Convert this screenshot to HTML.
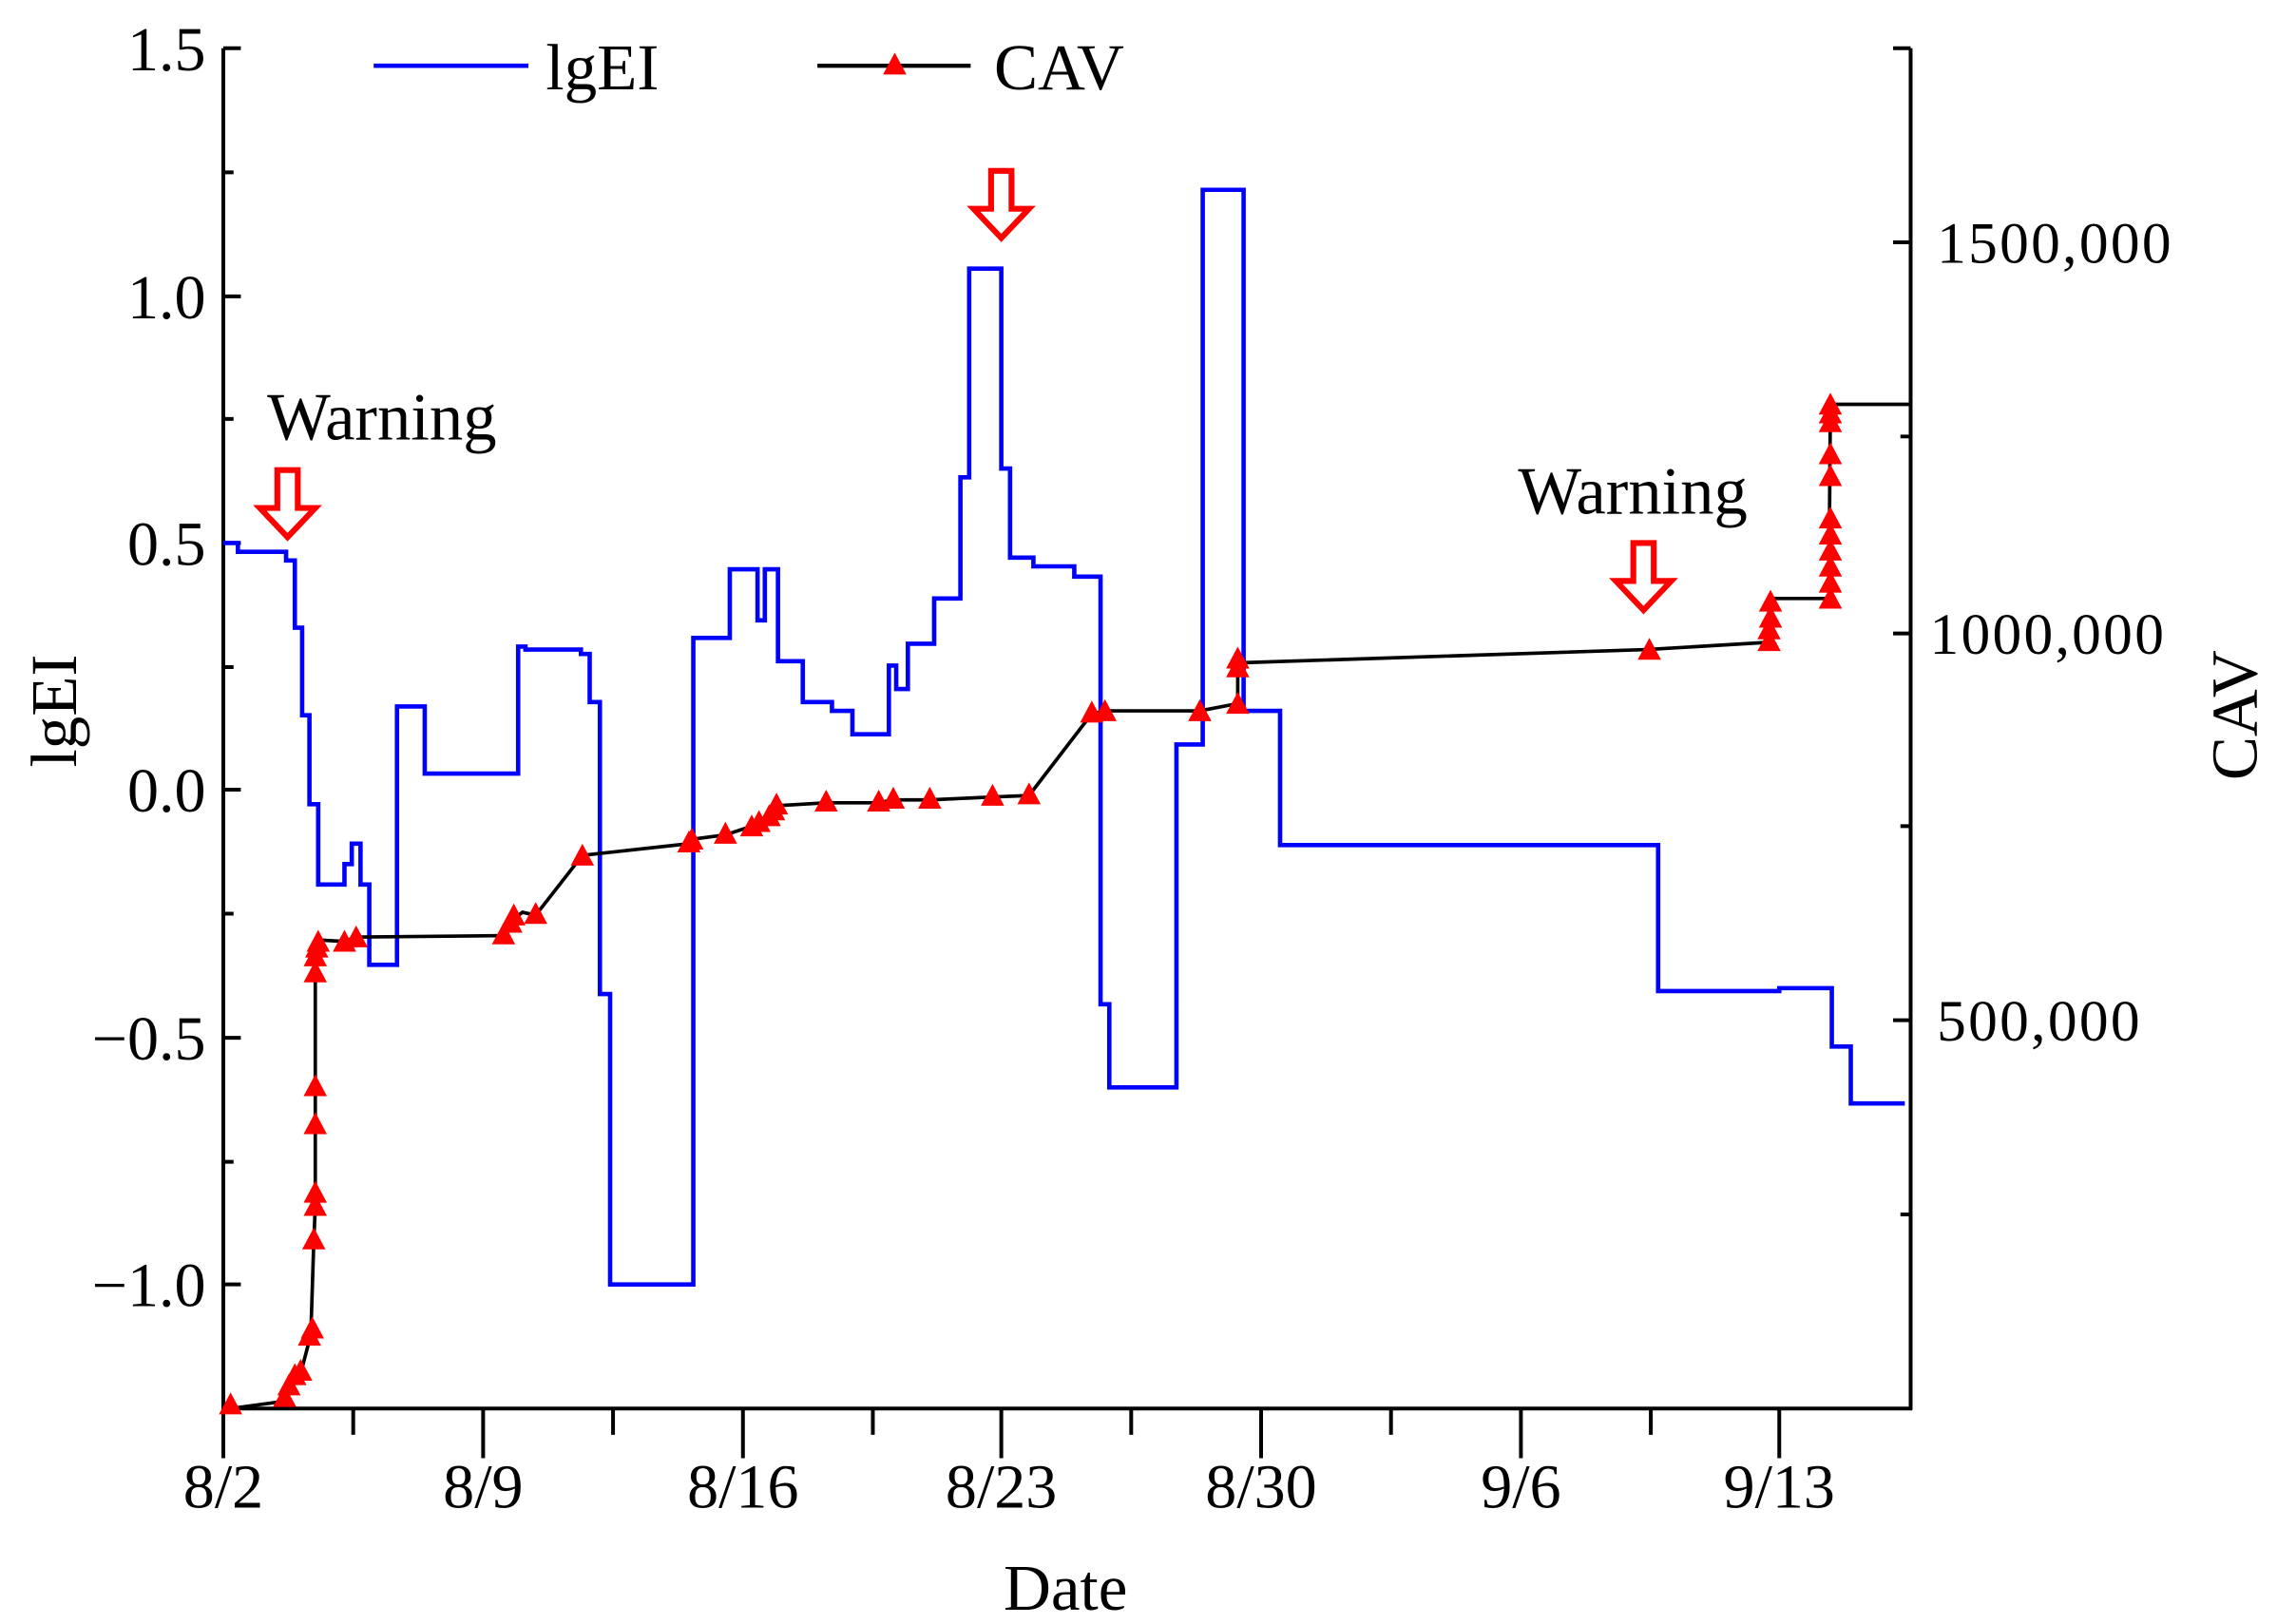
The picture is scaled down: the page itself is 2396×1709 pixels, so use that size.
<!DOCTYPE html>
<html><head><meta charset="utf-8"><style>
html,body{margin:0;padding:0;background:#fff;}
svg{display:block;}
text{font-family:"Liberation Serif",serif;fill:#000;}
</style></head><body>
<svg width="2396" height="1709" viewBox="0 0 1560 1112.6" xmlns="http://www.w3.org/2000/svg">
<defs><path id="t" d="M0,-9 L8,6 L-8,6 Z" fill="#ff0000"/></defs>
<rect width="1560" height="1113" fill="#fff"/>
<g stroke="#000" stroke-width="2.6" fill="none">
<line x1="153" y1="33" x2="153" y2="966"/>
<line x1="1309" y1="33" x2="1309" y2="966"/>
<line x1="152" y1="965" x2="1310" y2="965"/>
<path d="M153,33h12 M153,203h12 M153,372h12 M153,541h12 M153,711h12 M153,880h12 M153,118h7 M153,287h7 M153,457h7 M153,626h7 M153,796h7"/>
<path d="M1309,33h-12 M1309,166h-12 M1309,434h-12 M1309,699h-12 M1309,299h-7 M1309,566h-7 M1309,832h-7"/>
<path d="M153,965v34 M331,965v34 M509,965v34 M686,965v34 M864,965v34 M1042,965v34 M1219,965v34 M242,965v18 M420,965v18 M598,965v18 M775,965v18 M953,965v18 M1131,965v18"/>
</g>
<g font-size="43" text-anchor="end">
<text x="141" y="48">1.5</text>
<text x="141" y="218">1.0</text>
<text x="141" y="387">0.5</text>
<text x="141" y="556">0.0</text>
<text x="141" y="726">−0.5</text>
<text x="141" y="895">−1.0</text>
</g>
<g font-size="40" letter-spacing="1.5">
<text x="1327" y="180">1500,000</text>
<text x="1322" y="448">1000,000</text>
<text x="1327" y="713">500,000</text>
</g>
<g font-size="43" text-anchor="middle">
<text x="153" y="1033">8/2</text>
<text x="331" y="1033">8/9</text>
<text x="509" y="1033">8/16</text>
<text x="686" y="1033">8/23</text>
<text x="864" y="1033">8/30</text>
<text x="1042" y="1033">9/6</text>
<text x="1219" y="1033">9/13</text>
<text x="730" y="1103" font-size="45">Date</text>
</g>
<text font-size="45" text-anchor="middle" transform="translate(52,487) rotate(-90)">lgEI</text>
<text font-size="45" text-anchor="middle" transform="translate(1546,490) rotate(-90)">CAV</text>
<line x1="256" y1="45" x2="362" y2="45" stroke="#0000ff" stroke-width="3"/>
<text x="374" y="61" font-size="45">lgEI</text>
<line x1="560" y1="45" x2="665" y2="45" stroke="#000" stroke-width="2.8"/>
<use href="#t" x="613" y="45"/>
<text x="681" y="61" font-size="45">CAV</text>
<text x="183" y="301" font-size="46">Warning</text>
<text x="1040" y="352" font-size="46">Warning</text>
<g fill="#fff" stroke="#ff0000" stroke-width="4">
<path d="M190,322h14v26h12l-19,20l-19,-20h12z"/>
<path d="M679,117h14v26h12l-19,20l-19,-20h12z"/>
<path d="M1119,372h14v26h12l-19,20l-19,-20h12z"/>
</g>
<polyline fill="none" stroke="#0000ff" stroke-width="3" points="153,372 163,372 163,378 196,378 196,384 202,384 202,430 207,430 207,490 212,490 212,551 218,551 218,606 236,606 236,592 241,592 241,578 247,578 247,606 253,606 253,661 272,661 272,484 291,484 291,530 355,530 355,443 360,443 360,445 398,445 398,448 404,448 404,481 411,481 411,681 418,681 418,880 475,880 475,437 500,437 500,390 519,390 519,425 524,425 524,390 533,390 533,453 550,453 550,481 570,481 570,487 584,487 584,503 609,503 609,456 614,456 614,472 622,472 622,441 640,441 640,410 658,410 658,327 664,327 664,184 686,184 686,321 692,321 692,382 708,382 708,388 736,388 736,395 754,395 754,688 760,688 760,745 806,745 806,510 824,510 824,130 852,130 852,487 877,487 877,579 1136,579 1136,679 1219,679 1219,677 1255,677 1255,717 1268,717 1268,756 1305,756"/>
<polyline fill="none" stroke="#000" stroke-width="2.4" points="158,965 195,960 198,952 202,945 206,941 212,918 213,913 215,850 216,827 216,771 216,745 216,667 216,654 217,648 218,644 236,645 244,642 345,641 350,631 358,625 367,627 399,586 472,578 474,575 497,572 515,566 520,563 527,559 530,555 532,552 566,550 602,550 612,548 637,548 680,546 705,545 748,489 757,487 822,487 848,482 848,456 852,454 1128,445 1212,440 1212,430 1213,422 1213,411 1215,410 1253,410 1254,279 1254,277 1309,277"/>
<g>
<use href="#t" x="158" y="963"/><use href="#t" x="195" y="958"/><use href="#t" x="198" y="950"/><use href="#t" x="202" y="943"/><use href="#t" x="206" y="940"/>
<use href="#t" x="212" y="916"/><use href="#t" x="214" y="911"/><use href="#t" x="215" y="850"/><use href="#t" x="216" y="827"/><use href="#t" x="216" y="818"/><use href="#t" x="216" y="771"/><use href="#t" x="216" y="745"/>
<use href="#t" x="216" y="667"/><use href="#t" x="216" y="656"/><use href="#t" x="217" y="650"/><use href="#t" x="218" y="646"/><use href="#t" x="236" y="646"/><use href="#t" x="244" y="643"/>
<use href="#t" x="345" y="641"/><use href="#t" x="350" y="633"/><use href="#t" x="352" y="628"/><use href="#t" x="367" y="627"/><use href="#t" x="399" y="587"/>
<use href="#t" x="472" y="578"/><use href="#t" x="474" y="576"/><use href="#t" x="497" y="572"/><use href="#t" x="515" y="567"/><use href="#t" x="520" y="564"/><use href="#t" x="527" y="560"/><use href="#t" x="530" y="556"/><use href="#t" x="532" y="552"/>
<use href="#t" x="566" y="550"/><use href="#t" x="602" y="550"/><use href="#t" x="612" y="548"/><use href="#t" x="637" y="548"/><use href="#t" x="680" y="546"/><use href="#t" x="705" y="545"/>
<use href="#t" x="748" y="489"/><use href="#t" x="757" y="488"/><use href="#t" x="822" y="488"/><use href="#t" x="848" y="483"/><use href="#t" x="848" y="458"/><use href="#t" x="848" y="452"/>
<use href="#t" x="1130" y="446"/>
<use href="#t" x="1212" y="440"/><use href="#t" x="1212" y="432"/><use href="#t" x="1213" y="424"/><use href="#t" x="1213" y="413"/>
<use href="#t" x="1254" y="411"/><use href="#t" x="1254" y="400"/><use href="#t" x="1254" y="389"/><use href="#t" x="1254" y="378"/><use href="#t" x="1254" y="367"/><use href="#t" x="1254" y="356"/><use href="#t" x="1254" y="327"/><use href="#t" x="1254" y="312"/><use href="#t" x="1254" y="290"/><use href="#t" x="1254" y="284"/><use href="#t" x="1254" y="278"/>
</g>
</svg>
</body></html>
